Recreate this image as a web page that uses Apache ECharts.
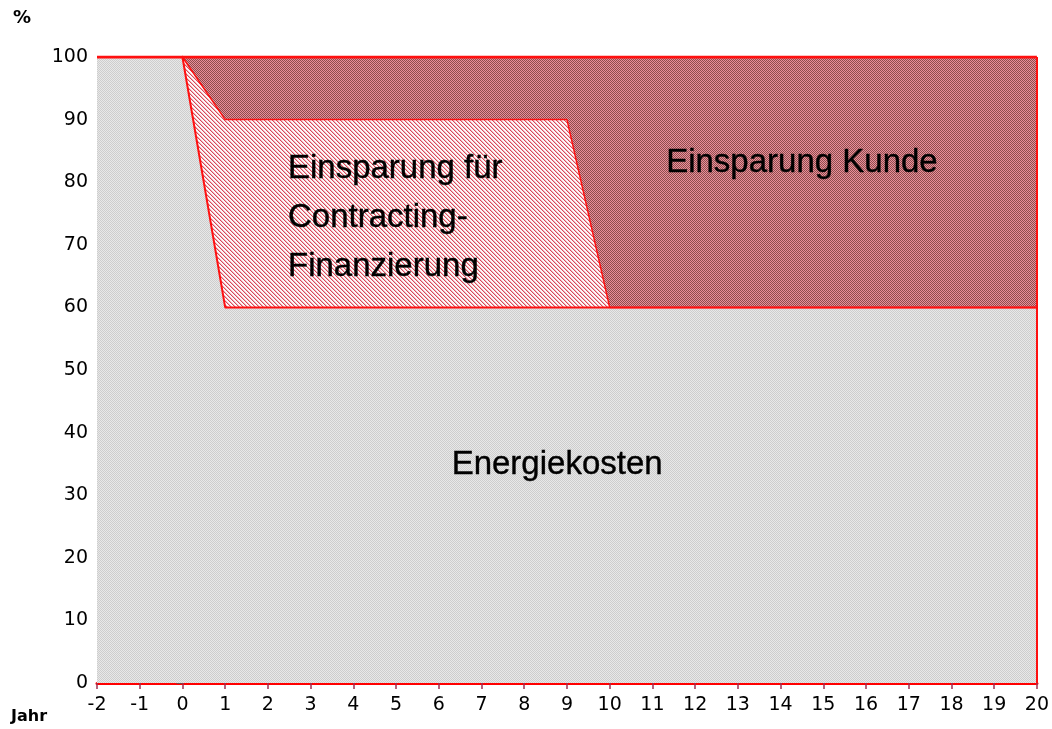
<!DOCTYPE html>
<html>
<head>
<meta charset="utf-8">
<script src="https://cdn.jsdelivr.net/npm/echarts@6/dist/echarts.min.js"></script>
<style>
html,body{margin:0;padding:0;background:#fff;}
#c{width:1052px;height:729px;}
</style>
</head>
<body>
<div id="c"></div>
<script>
// Data (one value per year, -2 .. 20)
const years = ['-2','-1','0','1','2','3','4','5','6','7','8','9','10','11','12','13','14','15','16','17','18','19','20'];
const energiekosten = [100,100,100,60,60,60,60,60,60,60,60,60,60,60,60,60,60,60,60,60,60,60,60];
const contracting   = [0,0,0,30,30,30,30,30,30,30,30,30,0,0,0,0,0,0,0,0,0,0,0];
const kunde         = [0,0,0,10,10,10,10,10,10,10,10,10,40,40,40,40,40,40,40,40,40,40,40];
const yTicks = [0,10,20,30,40,50,60,70,80,90,100];
const areaLabels = ['Energiekosten', 'Einsparung für\nContracting-\nFinanzierung', 'Einsparung Kunde'];
// label anchor positions in data units [year, percent]
const labelAnchors = [[8.77, 34.8], [2.47, 74.3], [14.5, 83.1]];

function pattern(size, draw) {
  const c = document.createElement('canvas');
  c.width = size; c.height = size;
  const g = c.getContext('2d');
  draw(g);
  return c;
}
const grayPat = pattern(2, g => {
  g.fillStyle = '#e8e8e8'; g.fillRect(0,0,2,2);
  g.fillStyle = '#cdcdcd'; g.fillRect(0,0,1,1); g.fillRect(1,1,1,1);
});
const redPat = pattern(2, g => {
  g.fillStyle = '#ea8e9a'; g.fillRect(0,0,2,2);
  g.fillStyle = '#8e4e4e'; g.fillRect(0,0,1,1); g.fillRect(1,1,1,1);
});
const hatchPat = pattern(4, g => {
  g.fillStyle = '#fdf8f8'; g.fillRect(0,0,4,4);
  for (let i = 0; i < 4; i++) {
    g.fillStyle = '#d8485a'; g.fillRect(i, i, 1, 1);
    g.fillStyle = '#eeb8be'; g.fillRect((i+1)%4, i, 1, 1);
  }
});

const labelFont = { fontFamily: 'Liberation Sans', fontSize: 33, color: '#000', opacity: 1, textBorderColor: '#000', textBorderWidth: 0.4 };

const areaSeries = (name, data, pat, z) => ({
  name, type: 'line', stack: 'area', data, symbol: 'none', z,
  lineStyle: { width: 0 },
  areaStyle: { color: { image: pat, repeat: 'repeat' }, opacity: 1 }
});
const edgeSeries = (name, data, width) => ({
  name: name + ' edge', type: 'line', stack: 'edge', data, symbol: 'none', z: 6,
  lineStyle: { color: '#ff1010', width }
});

const chart = echarts.init(document.getElementById('c'), null, { renderer: 'canvas' });
chart.setOption({
  animation: false,
  backgroundColor: '#fff',
  grid: { left: 97, right: 15, top: 57, bottom: 46 },
  xAxis: [{
    type: 'category', data: years, boundaryGap: false,
    axisLine: { lineStyle: { color: '#ff0000', width: 3 } },
    axisTick: { length: 6, alignWithLabel: true, lineStyle: { color: '#a03050', width: 1.5 } },
    axisLabel: { fontFamily: 'DejaVu Sans', fontSize: 19, color: '#000', margin: 13, interval: 0 },
    splitLine: { show: false }
  }, {
    type: 'value', min: -2, max: 20, show: false
  }],
  yAxis: {
    type: 'value', min: 0, max: 100, interval: 10,
    axisLine: { show: true, lineStyle: { color: '#ff0000', width: 2.5 } },
    axisTick: { show: true, length: 6, lineStyle: { color: '#555', width: 1.5 } },
    axisLabel: { fontFamily: 'DejaVu Sans', fontSize: 19, color: '#000', margin: 9 },
    splitLine: { show: false }
  },
  graphic: [
    { type: 'text', left: 13, top: 9, style: { text: '%', font: 'bold 18px DejaVu Sans', fill: '#000' } },
    { type: 'text', left: 11, top: 709, style: { text: 'Jahr', font: 'bold 16px DejaVu Sans', fill: '#000' } }
  ],
  series: [
    Object.assign(areaSeries('Energiekosten', energiekosten, grayPat, 2), {
      markLine: {
        symbol: 'none', silent: true, label: { show: false },
        lineStyle: { color: '#ff1010', width: 2, type: 'solid' },
        data: [[{ coord: ['20', 0] }, { coord: ['20', 100] }]]
      }
    }),
    areaSeries('Contracting', contracting, hatchPat, 3),
    areaSeries('Einsparung Kunde', kunde, redPat, 4),
    edgeSeries('Energiekosten', energiekosten, 2),
    edgeSeries('Contracting', contracting, 1.5),
    edgeSeries('Einsparung Kunde', kunde, 3),
    {
      name: 'labels', type: 'scatter', xAxisIndex: 1, z: 10, silent: true,
      symbolSize: 0, itemStyle: { opacity: 1 },
      data: [
        { value: labelAnchors[0], label: Object.assign({ show: true, formatter: areaLabels[0], position: 'inside' }, labelFont) },
        { value: labelAnchors[1], label: Object.assign({ show: true, formatter: areaLabels[1], position: 'right', distance: 0, align: 'left', lineHeight: 49 }, labelFont) },
        { value: labelAnchors[2], label: Object.assign({ show: true, formatter: areaLabels[2], position: 'inside' }, labelFont) }
      ]
    }
  ]
});
</script>
</body>
</html>
